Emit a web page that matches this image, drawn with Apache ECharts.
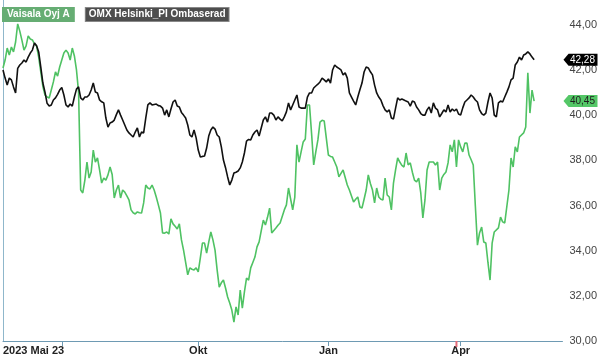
<!DOCTYPE html>
<html>
<head>
<meta charset="utf-8">
<script src="https://cdn.jsdelivr.net/npm/echarts@6/dist/echarts.min.js"></script>
<style>
html,body{margin:0;padding:0;background:#fff;}
#chart{width:600px;height:357px;}
</style>
</head>
<body>
<div id="chart"></div>
<script>
// Trading-day index 0 = 2023-05-23, 253 = 2024-05-22
const xLabelDays = [0, 93, 155, 218];
const xLabelTexts = ['2023 Mai 23', 'Okt', 'Jan', 'Apr'];
const xTickDays = [28, 93, 155, 218];
const yTickValues = [30, 32, 34, 36, 38, 40, 42, 44];
const dividendDay = 216;

const vaisalaName = 'Vaisala Oyj A';
const vaisalaDays = [0,1,2,3,4,5,6,7,8,9,10,11,12,13,14,15,16,17,18,19,20,21,22,23,24,25,26,27,28,29,30,31,32,33,34,35,36,37,38,39,40,41,42,43,44,45,46,47,48,49,50,51,52,53,54,55,56,57,58,59,60,61,62,63,64,65,66,67,68,69,70,71,72,73,74,75,76,77,78,79,80,81,82,83,84,85,86,87,88,89,90,91,92,93,94,95,96,97,98,99,100,101,102,103,104,105,106,107,108,109,110,111,112,113,114,115,116,117,118,119,120,121,122,123,124,125,126,127,128,130,131,132,134,135,136,138,139,140,141,142,143,144,145,146,147,148,149,150,151,152,153,155,156,157,158,159,160,162,164,165,167,168,169,170,171,172,173,174,175,176,177,178,179,180,181,182,183,184,185,186,187,188,189,190,191,192,193,194,195,196,197,198,199,200,201,202,203,204,205,206,207,208,209,210,211,212,213,214,215,216,217,218,219,220,221,222,223,224,225,226,227,228,229,230,231,232,233,234,236,237,238,239,241,242,243,244,245,246,248,249,250,251,252,253];
const vaisalaValues = [41.92,42.27,42.80,42.49,42.85,42.63,43.07,43.87,43.55,43.15,42.71,42.90,43.34,43.20,43.16,42.98,42.89,42.40,41.74,41.10,40.72,40.63,40.59,40.94,41.30,41.74,41.56,41.96,42.27,42.58,42.71,42.58,42.27,42.80,42.45,41.83,40.85,36.51,36.38,36.95,37.75,37.04,37.31,38.28,37.75,37.93,37.40,36.82,37.04,36.95,37.18,37.53,37.20,36.16,36.51,36.73,36.16,36.51,36.42,36.25,36.07,35.63,35.50,35.45,35.54,35.50,35.49,35.94,36.73,36.60,36.56,36.73,36.51,36.20,35.85,35.49,34.61,34.60,34.65,34.56,35.23,35.01,34.90,34.78,35.01,34.30,33.85,33.30,32.75,33.06,33.00,32.97,33.06,32.88,33.50,34.16,34.16,33.72,34.20,34.65,34.30,33.85,32.97,32.21,32.40,32.52,32.17,31.77,31.50,31.19,30.66,31.33,30.97,32.08,31.28,32.00,32.61,32.52,33.06,33.30,33.54,33.99,34.21,34.70,35.18,34.96,35.30,35.71,34.61,34.83,34.95,35.05,35.63,35.85,36.60,35.63,36.20,38.51,37.75,38.20,38.64,38.77,40.28,40.28,39.00,37.62,38.20,38.73,39.52,39.60,39.57,38.06,38.00,37.97,37.75,37.53,37.09,37.40,36.73,36.51,35.98,36.10,36.20,35.76,35.71,36.10,36.51,37.18,36.80,36.51,35.94,36.60,36.20,36.10,36.07,37.04,36.29,36.20,35.63,36.82,37.40,37.93,37.75,37.60,37.53,38.15,37.62,37.71,37.30,36.95,36.87,37.04,36.38,35.27,36.07,37.40,37.75,37.75,37.75,37.62,37.75,36.51,37.04,37.20,37.31,37.71,38.51,38.20,38.73,37.53,38.73,38.42,38.20,38.59,38.59,38.06,37.85,37.62,35.80,34.07,34.61,34.87,34.21,34.16,33.30,32.52,34.16,34.65,34.83,35.31,35.10,35.05,36.51,37.93,37.53,38.42,38.20,38.86,39.04,39.30,41.70,39.92,40.94,40.45];

const omxName = 'OMX Helsinki_PI Ombaserad';
// one value per trading day, index = trading day
const omxValues = [41.83,41.47,41.16,41.47,41.39,41.08,40.81,41.90,42.05,42.14,42.27,42.18,42.40,42.58,42.71,43.02,42.90,42.63,41.96,41.25,40.85,40.35,40.23,40.28,40.50,40.59,40.75,40.94,41.05,40.72,40.28,40.19,40.32,40.23,40.63,40.98,41.08,40.59,40.50,40.63,40.63,40.72,40.94,41.25,40.85,40.81,40.50,40.42,40.37,39.70,39.30,39.48,39.52,39.61,39.85,40.06,39.83,39.61,39.39,39.17,39.04,38.95,38.86,39.08,39.26,38.86,39.08,39.04,39.70,40.28,40.37,40.28,40.30,40.32,40.25,40.23,40.14,39.83,40.06,39.75,40.10,40.41,40.50,40.23,40.19,39.95,39.83,39.70,39.39,38.95,38.86,39.17,38.82,38.28,37.97,38.00,38.02,38.37,38.90,39.17,39.30,39.21,38.95,38.86,38.42,37.84,37.50,37.09,36.73,36.95,37.26,37.30,37.35,37.49,37.75,38.15,38.68,38.75,38.73,38.95,39.08,39.17,38.90,39.26,39.61,39.75,39.52,39.92,39.92,39.83,39.61,39.75,39.65,39.57,39.75,39.97,40.37,40.06,40.28,40.50,40.72,40.19,40.14,40.14,40.14,40.63,40.81,40.81,41.03,41.12,41.20,41.30,41.47,41.39,41.30,41.43,41.25,41.83,42.05,41.96,41.90,41.83,41.61,41.70,41.47,40.81,40.63,40.45,40.28,40.63,40.95,41.25,41.74,41.96,41.92,41.75,41.61,41.16,40.81,40.63,40.50,40.25,40.06,39.97,40.06,39.70,39.66,40.14,40.59,40.50,40.54,40.50,40.45,40.41,40.23,40.45,40.41,40.19,40.06,39.90,39.83,39.83,40.06,40.19,39.92,40.37,40.14,40.06,39.75,39.90,40.06,39.97,40.28,39.97,40.10,40.01,40.10,39.88,39.83,40.15,40.41,40.50,40.59,40.72,40.63,40.50,40.41,40.06,39.90,39.83,39.92,40.41,40.81,40.59,39.83,39.75,40.37,40.45,40.41,40.63,40.85,41.08,41.39,41.47,42.05,42.18,42.40,42.27,42.49,42.54,42.63,42.54,42.40,42.28];

const X_MAX = 266.5, Y_MIN = 29.82, Y_MAX = 44.93;
const fmt = v => v.toFixed(2).replace('.', ',');
const FONT = 'Arial, "Liberation Sans", sans-serif';

const vaisalaData = vaisalaDays.map((d, i) => [d, vaisalaValues[i]]);
const omxData = omxValues.map((v, i) => [i, v]);

const tagPath = 'path://M0,6 L6,0 L40,0 L40,12 L6,12 Z';
function tag(value, fill, textColor) {
  return {
    coord: [X_MAX, value],
    symbol: tagPath,
    symbolSize: [34, 12],
    symbolKeepAspect: false,
    symbolOffset: [18, 0],
    itemStyle: { color: fill },
    label: { show: true, position: 'inside', formatter: fmt(value), color: textColor, fontSize: 10, fontFamily: FONT, offset: [2, 0] }
  };
}

const chart = echarts.init(document.getElementById('chart'), null, { renderer: 'canvas' });
chart.setOption({
  animation: false,
  textStyle: { fontFamily: FONT },
  grid: { left: 0, right: 34, top: 0, bottom: 16 },
  legend: {
    left: -8, top: 2, icon: 'rect', itemWidth: 0, itemHeight: 0, itemGap: 6,
    selectedMode: false,
    data: [
      { name: vaisalaName, textStyle: { color: '#fff', fontWeight: 'bold', fontSize: 10, backgroundColor: '#66ad73', padding: [3, 5, 2, 5] } },
      { name: omxName, textStyle: { color: '#fff', fontWeight: 'bold', fontSize: 10, backgroundColor: '#4e4e4e', borderColor: '#888', borderWidth: 1, padding: [2, 3, 1, 3] } }
    ]
  },
  xAxis: {
    type: 'value', min: 0, max: X_MAX,
    splitLine: { show: false },
    axisLine: { show: true, lineStyle: { color: '#6e9ab3', width: 1 } },
    axisTick: { show: true, customValues: xTickDays, length: 5, lineStyle: { color: '#6e9ab3' } },
    axisLabel: {
      customValues: xLabelDays,
      formatter: v => xLabelTexts[xLabelDays.indexOf(v)] || '',
      fontWeight: 'bold', fontSize: 11, color: '#222', margin: 4,
      alignMinLabel: 'left'
    }
  },
  yAxis: {
    type: 'value', position: 'right', min: Y_MIN, max: Y_MAX,
    splitLine: { show: false },
    axisLine: { show: true, lineStyle: { color: '#8fb7cb' } },
    axisTick: { show: false },
    axisLabel: { customValues: yTickValues, formatter: v => fmt(v), color: '#444', fontSize: 11, margin: 7, verticalAlign: 'top', lineHeight: 8 }
  },
  series: [
    {
      name: vaisalaName, type: 'line', data: vaisalaData, showSymbol: false, symbol: 'none',
      lineStyle: { color: '#4fc263', width: 1.6 }, itemStyle: { color: '#66ad73' },
      markPoint: {
        silent: true,
        data: [
          tag(vaisalaValues[vaisalaValues.length - 1], '#54c767', '#1e1e1e'),
          { coord: [dividendDay, Y_MIN], symbol: 'rect', symbolSize: [2, 6], symbolOffset: [0, 3], itemStyle: { color: '#e36b78' }, label: { show: false } }
        ]
      }
    },
    {
      name: omxName, type: 'line', data: omxData, showSymbol: false, symbol: 'none',
      lineStyle: { color: '#111', width: 1.6 }, itemStyle: { color: '#4e4e4e' },
      markPoint: {
        silent: true,
        data: [tag(omxValues[omxValues.length - 1], '#000', '#fff')]
      }
    }
  ]
});
</script>
</body>
</html>
